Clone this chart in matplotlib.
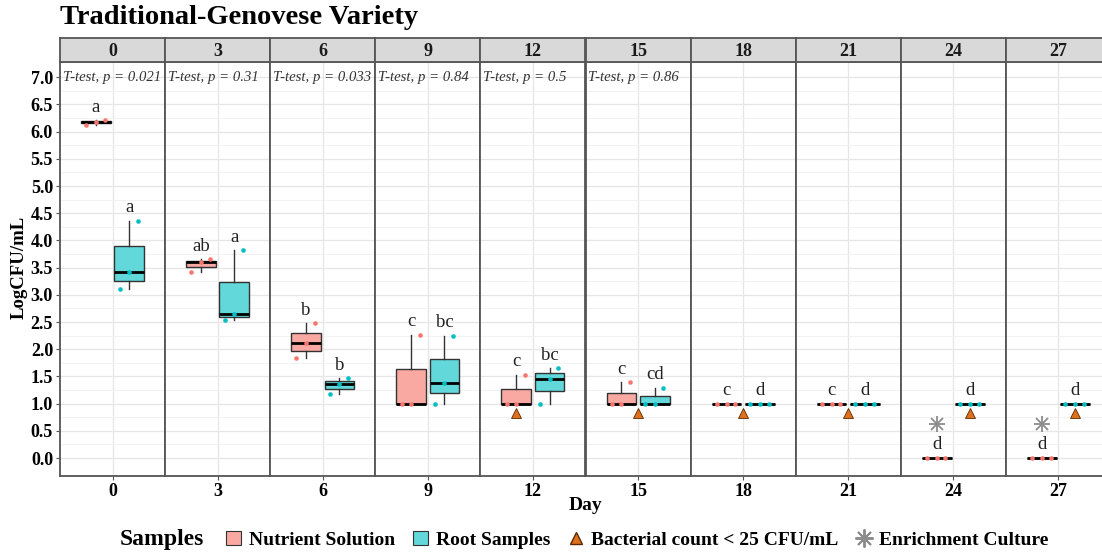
import matplotlib
matplotlib.use("Agg")
import matplotlib.pyplot as plt
from matplotlib.lines import Line2D
from matplotlib.patches import Patch
import numpy as np

plt.rcParams["font.family"] = ["Liberation Serif", "DejaVu Serif"]

# ---- data ----
days = [0, 3, 6, 9, 12, 15, 18, 21, 24, 27]
nutrient = [
    [6.13, 6.17, 6.21],
    [3.42, 3.60, 3.65],
    [1.83, 2.12, 2.48],
    [1.00, 1.00, 2.27],
    [1.00, 1.00, 1.53],
    [1.00, 1.00, 1.39],
    [1.00, 1.00, 1.00],
    [1.00, 1.00, 1.00],
    [0.00, 0.00, 0.00],
    [0.00, 0.00, 0.00],
]
root = [
    [3.10, 3.42, 4.36],
    [2.54, 2.64, 3.82],
    [1.18, 1.37, 1.47],
    [1.00, 1.38, 2.25],
    [1.00, 1.46, 1.65],
    [1.00, 1.00, 1.29],
    [1.00, 1.00, 1.00],
    [1.00, 1.00, 1.00],
    [1.00, 1.00, 1.00],
    [1.00, 1.00, 1.00],
]
letters_nutrient = ["a", "ab", "b", "c", "c", "c", "c", "c", "d", "d"]
letters_root = ["a", "a", "b", "bc", "bc", "cd", "d", "d", "d", "d"]
p_values = ["0.021", "0.31", "0.033", "0.84", "0.5", "0.86", None, None, None, None]
# which group has a count < 25 CFU/mL marker: N = nutrient, R = root, NR = both
low_count = [None, None, None, None, "N", "NR", "NR", "NR", "R", "R"]
low_count_y = 0.83
enrichment = [False] * 8 + [True, True]
enrichment_y = 0.62

# ---- style ----
c_nut, c_root = "#F8766D", "#00BFC4"
f_nut, f_root = "#F9A8A2", "#62D8DA"
tri_col = "#E0701C"
star_col = "#8C8C8C"
dodge = 0.19
jit = [-0.11, 0.0, 0.1]

W, H = 1102, 553
fig = plt.figure(figsize=(W / 100, H / 100), dpi=100)

x0, pw = 60, 105.1
top, bot, strip_h = 62, 476, 24


def star(ax, x, y, ms, mew):
    # eight-spoke asterisk like ggplot shape 8
    ax.plot([x], [y], "+", color=star_col, ms=ms, mew=mew, zorder=5)
    ax.plot([x], [y], "x", color=star_col, ms=ms * 0.75, mew=mew, zorder=5)


for i, d in enumerate(days):
    rect = [(x0 + i * pw) / W, (H - bot) / H, pw / W, (bot - top) / H]
    ax = fig.add_axes(rect)
    ax.set_xlim(-0.6, 0.6)
    ax.set_ylim(-0.33, 7.28)
    ax.set_yticks(np.arange(0, 7.01, 0.5))
    ax.set_yticks(np.arange(0.25, 7.1, 0.5), minor=True)
    ax.set_xticks([0])
    ax.set_xticklabels([str(d)], fontsize=13, fontweight="bold")
    ax.grid(True, which="major", color="#E6E6E6", lw=0.9)
    ax.grid(True, which="minor", axis="y", color="#F0F0F0", lw=0.6)
    ax.set_axisbelow(True)
    for s in ax.spines.values():
        s.set_color("#555555")
        s.set_linewidth(1.3)
    ax.tick_params(axis="both", colors="#555555", length=3, width=0.8,
                   labelcolor="black", pad=2)
    ax.tick_params(axis="y", which="minor", length=0)
    if i == 0:
        ax.set_yticklabels([f"{v:.1f}" for v in np.arange(0, 7.01, 0.5)],
                           fontsize=13, fontweight="bold")
    else:
        ax.tick_params(axis="y", which="major", length=0, labelleft=False)

    for vals, pos, fc, pc in [(nutrient[i], -dodge, f_nut, c_nut),
                              (root[i], dodge, f_root, c_root)]:
        ax.boxplot([vals], positions=[pos], widths=0.34, patch_artist=True,
                   showcaps=False, showfliers=False, manage_ticks=False,
                   boxprops=dict(facecolor=fc, edgecolor="#333333", lw=1.0),
                   whiskerprops=dict(color="#333333", lw=1.0),
                   medianprops=dict(color="black", lw=2.0))
        ax.plot([pos + j for j in jit], vals, "o", color=pc, ms=3.3, mec="none", zorder=4)

    ax.text(-dodge, max(nutrient[i]) + 0.24, letters_nutrient[i], ha="center",
            va="center", fontsize=13.5, color="#222222")
    ax.text(dodge, max(root[i]) + 0.24, letters_root[i], ha="center",
            va="center", fontsize=13.5, color="#222222")

    if p_values[i] is not None:
        ax.text(-0.57, 7.0, f"T-test, p = {p_values[i]}", ha="left", va="center",
                fontsize=10.6, style="italic", color="#333333")

    if low_count[i] is not None:
        tx = {"N": -dodge, "R": dodge, "NR": 0.0}[low_count[i]]
        ax.plot([tx], [low_count_y], "^", color=tri_col, mec="#5a2a00", mew=0.6,
                ms=6.5, zorder=5)

    if enrichment[i]:
        star(ax, -dodge, enrichment_y, 11, 1.3)

    sax = fig.add_axes([(x0 + i * pw) / W, (H - top) / H, pw / W, strip_h / H])
    sax.set_facecolor("#D9D9D9")
    sax.set_xticks([])
    sax.set_yticks([])
    for s in sax.spines.values():
        s.set_color("#555555")
        s.set_linewidth(1.3)
    sax.text(0.5, 0.45, str(d), ha="center", va="center", fontsize=13,
             fontweight="bold", color="#1A1A1A", transform=sax.transAxes)

fig.text(60 / W, 1 - 18 / H, "Traditional-Genovese Variety", ha="left", va="center",
         fontsize=20.5, fontweight="bold")
fig.text(19 / W, 1 - 267 / H, "LogCFU/mL", rotation=90, ha="center", va="center",
         fontsize=13.5, fontweight="bold")
fig.text(585 / W, 1 - 506 / H, "Day", ha="center", va="center", fontsize=14,
         fontweight="bold")

fig.text(120 / W, 1 - 540 / H, "Samples", ha="left", va="center", fontsize=17,
         fontweight="bold")
handles = [
    Patch(facecolor=f_nut, edgecolor="#333333", lw=0.8, label="Nutrient Solution"),
    Patch(facecolor=f_root, edgecolor="#333333", lw=0.8, label="Root Samples"),
    Line2D([], [], marker="^", ls="none", color=tri_col, mec="#5a2a00", ms=9,
           label="Bacterial count < 25 CFU/mL"),
    Line2D([], [], marker=(8, 2, 0), ls="none", color=star_col, mew=1.4, ms=13,
           label="Enrichment Culture"),
]
fig.legend(handles=handles, loc="center left", bbox_to_anchor=(218 / W, 1 - 540 / H),
           ncol=4, frameon=False, prop=dict(size=14, weight="bold"),
           handlelength=0.8, handleheight=0.7, handletextpad=0.4, columnspacing=0.9,
           borderaxespad=0)

fig.savefig("out.png", dpi=100)
